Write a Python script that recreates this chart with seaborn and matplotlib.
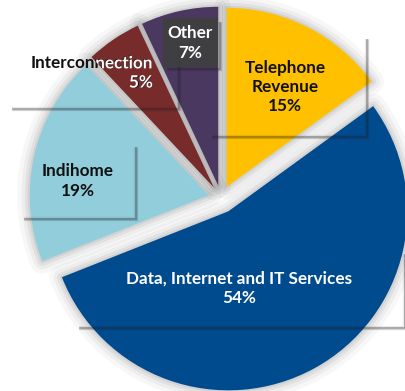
import matplotlib
matplotlib.use("Agg")
import matplotlib.pyplot as plt
import matplotlib.patheffects as pe
import seaborn as sns
from matplotlib.patches import Rectangle, Wedge

# ---- data ----
categories = ["Telephone\nRevenue", "Data, Internet and IT Services", "Indihome",
              "Interconnection", "Other"]
shares = [15, 54, 19, 5, 7]
pct_labels = ["15%", "54%", "19%", "5%", "7%"]
explode_frac = [0.07, 0.085, 0.07, 0.07, 0.07]
colors = ["#FFC000", "#004A8E", "#92CDDC", "#772B2A", "#4B3861"]

sns.set_theme(style="white")
plt.rcParams['font.family'] = ['Lato', 'DejaVu Sans']
palette = sns.color_palette(colors)

W, H = 405, 391
fig = plt.figure(figsize=(W / 100, H / 100), dpi=100)
ax = fig.add_axes([0, 0, 1, 1])
R = 179
cx, cy = 221, H - 198

wedges, _ = ax.pie(shares, explode=[e * R for e in explode_frac], colors=palette,
                   startangle=90, counterclock=False, radius=R, center=(cx, cy),
                   wedgeprops=dict(linewidth=0, zorder=2))

# soft glow / shadow around the slices
for w in wedges:
    for lw, a in [(18, 0.03), (12, 0.04), (7, 0.05), (3, 0.06)]:
        ax.add_patch(Wedge(w.center, w.r, w.theta1, w.theta2, facecolor='none',
                           edgecolor='black', alpha=a, lw=lw, joinstyle='round',
                           zorder=1.5))


def ypx(y):
    return H - y


def box(x0, y0, x1, y1, fill='white', z=1, alpha=1.0):
    ax.add_patch(Rectangle((x0, ypx(y1)), x1 - x0, y1 - y0, facecolor=fill,
                           edgecolor='none', zorder=z, alpha=alpha))
    for lw, a in [(3.2, 0.08), (2.2, 0.14), (1.2, 0.26)]:
        ax.plot([x0 + 4, x1 + 2, x1 + 2], [ypx(y1 + 2), ypx(y1 + 2), ypx(y0 + 4)],
                color='#222222', alpha=a, lw=lw, solid_capstyle='butt',
                solid_joinstyle='miter', zorder=3)


# label boxes
box(208, 35, 365, 135)          # Telephone
box(8, 35, 177, 107)            # Interconnection
box(20, 143, 134, 217)          # Indihome
box(75, 250, 403, 326)          # Data
box(163, 18, 218, 67, fill='#3F3F3F', z=3.2, alpha=0.97)  # Other

fs = 12.3
dark = '#111111'
kw = dict(fontsize=fs, fontweight='bold', ha='center', va='center', linespacing=1.25,
          zorder=5)

ax.text(285, ypx(87), f"{categories[0]}\n{pct_labels[0]}", color=dark, **kw)
ax.text(239, ypx(288), f"{categories[1]}\n{pct_labels[1]}", color='white', **kw)
ax.text(78, ypx(181), f"{categories[2]}\n{pct_labels[2]}", color=dark, **kw)
t1 = ax.text(92, ypx(73), f"{categories[3]}\n{pct_labels[3]}", color=dark,
             multialignment='right', **kw)
t2 = ax.text(92, ypx(73), f"{categories[3]}\n{pct_labels[3]}", color='white',
             multialignment='right', clip_on=True, **{**kw, 'zorder': 5.1})
t2.set_path_effects([pe.Normal()])
t2.set_clip_path(wedges[3])
ax.text(190, ypx(43), f"{categories[4]}\n{pct_labels[4]}", color='white', **kw)

ax.set_xlim(0, W)
ax.set_ylim(0, H)
ax.set_aspect('equal')
ax.axis('off')
fig.savefig("out.png", dpi=100, facecolor='white')
